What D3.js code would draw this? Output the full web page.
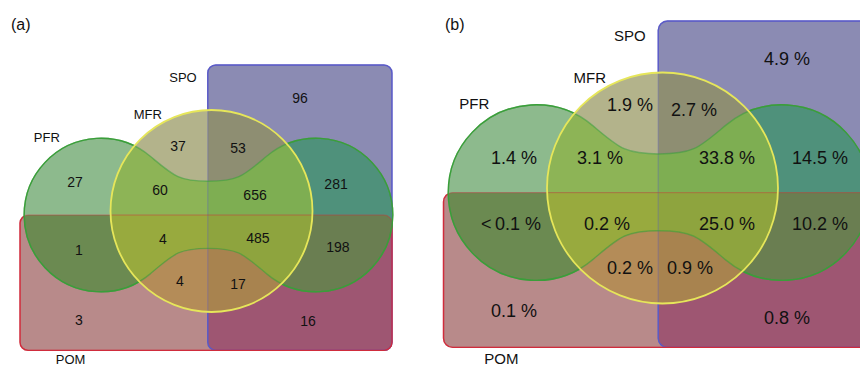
<!DOCTYPE html>
<html>
<head>
<meta charset="utf-8">
<script src="https://cdn.jsdelivr.net/npm/d3@7"></script>
<style>
  body { margin: 0; background: #fff; }
  svg { display: block; font-family: "Liberation Sans", Arial, sans-serif; }
</style>
</head>
<body>
<svg id="chart" width="860" height="366"></svg>
<script>
// sets and the 15 regions of the 4-set diagram
const setNames = ["SPO", "MFR", "PFR", "POM"];
const regionSets = [
  ["SPO"], ["MFR"], ["PFR"], ["POM"],
  ["SPO", "MFR"], ["SPO", "PFR"], ["SPO", "POM"], ["MFR", "PFR"], ["MFR", "POM"], ["PFR", "POM"],
  ["SPO", "MFR", "PFR"], ["SPO", "MFR", "POM"], ["SPO", "PFR", "POM"], ["MFR", "PFR", "POM"],
  ["SPO", "MFR", "PFR", "POM"]
];
const regionCounts = [96, 37, 27, 3, 53, 281, 16, 60, 4, 1, 656, 17, 198, 4, 485];
const regionPercents = ["4.9 %", "1.9 %", "1.4 %", "0.1 %", "2.7 %", "14.5 %", "0.8 %", "3.1 %",
  "0.2 %", "<\u20090.1 %", "33.8 %", "0.9 %", "10.2 %", "0.2 %", "25.0 %"];

// colours of each region (same order)
const regionColors = ["#8b8bb3", "#b3b38b", "#8dba8d", "#b88a8a",
  "#8e8e72", "#4f917b", "#9e5672", "#8db456", "#b48c58", "#6b8a51",
  "#7eae52", "#a8834f", "#6a7e51", "#98aa3e", "#8ea43e"];
const strokeColors = { SPO: "#5a5ac8", POM: "#d02c3c", PFR: "#3a9e3a", MFR: "#e6e65a" };

// shape layout, in units of the MFR circle radius (centre of circle = 0,0)
const geo = {
  spo: { x0: -0.037, x1: 1.787, y0: -1.446, y1: 1.38 },
  pom: { x0: -1.896, x1: 1.787, y0: 0.04, y1: 1.38 },
  lobeL: -1.095, lobeR: 1.035, lobeY: 0.04, lobeRad: 0.76,
  bandX: -0.03, bandTop: -0.295, bandBot: 0.37, corner: 0.08
};

// set label positions (unit coords)
const setLabelPos = { SPO: [-0.282, -1.32], MFR: [-0.63, -0.955], PFR: [-1.63, -0.728], POM: [-1.395, 1.475] };

const panels = [
  { id: "a", tag: "(a)", tagX: 11, tagY: 24, cx: 211.5, cy: 211, r: 101, numFont: 14, setFont: 13,
    texts: regionCounts.map(String),
    pos: [[0.876, -1.119], [-0.332, -0.644], [-1.351, -0.287], [-1.312, 1.079], [0.262, -0.624],
          [1.233, -0.267], [0.955, 1.089], [-0.51, -0.208], [-0.312, 0.693], [-1.312, 0.386],
          [0.431, -0.158], [0.262, 0.723], [1.252, 0.356], [-0.48, 0.277], [0.46, 0.267]] },
  { id: "b", tag: "(b)", tagX: 445, tagY: 24, cx: 662.5, cy: 188, r: 115.5, numFont: 18, setFont: 15,
    texts: regionPercents,
    pos: [[1.078, -1.117], [-0.281, -0.719], [-1.286, -0.26], [-1.286, 1.065], [0.273, -0.675],
          [1.364, -0.26], [1.078, 1.126], [-0.541, -0.26], [-0.281, 0.693], [-1.312, 0.312],
          [0.558, -0.26], [0.238, 0.693], [1.364, 0.312], [-0.481, 0.312], [0.558, 0.312]] }
];

const svg = d3.select("#chart");
const defs = svg.append("defs");

function pfrPath(x, y, k) {
  const a = 50 * Math.PI / 180, t = 0.3 * k, h = 0.3 * k;
  const L = [x(geo.lobeL), y(geo.lobeY)], R = [x(geo.lobeR), y(geo.lobeY)], rr = geo.lobeRad * k;
  const mx = x(geo.bandX), top = y(geo.bandTop), bot = y(geo.bandBot);
  const ca = Math.cos(a), sa = Math.sin(a);
  const p = d3.path();
  const S = [L[0] + rr * ca, L[1] - rr * sa];
  p.moveTo(S[0], S[1]);
  p.arc(L[0], L[1], rr, -a, a, true);
  const A = [L[0] + rr * ca, L[1] + rr * sa];
  p.bezierCurveTo(A[0] + t * sa, A[1] - t * ca, mx - h, bot, mx, bot);
  const B = [R[0] - rr * ca, R[1] + rr * sa];
  p.bezierCurveTo(mx + h, bot, B[0] - t * sa, B[1] - t * ca, B[0], B[1]);
  p.arc(R[0], R[1], rr, Math.PI - a, -(Math.PI - a), true);
  const C = [R[0] - rr * ca, R[1] - rr * sa];
  p.bezierCurveTo(C[0] - t * sa, C[1] + t * ca, mx + h, top, mx, top);
  p.bezierCurveTo(mx - h, top, S[0] + t * sa, S[1] + t * ca, S[0], S[1]);
  p.closePath();
  return p.toString();
}

panels.forEach(P => {
  const x = d3.scaleLinear().domain([0, 1]).range([P.cx, P.cx + P.r]);
  const y = d3.scaleLinear().domain([0, 1]).range([P.cy, P.cy + P.r]);
  const k = P.r;

  // the four shapes
  const shapes = {
    SPO: g => g.append("rect").attr("x", x(geo.spo.x0)).attr("y", y(geo.spo.y0))
      .attr("width", x(geo.spo.x1) - x(geo.spo.x0)).attr("height", y(geo.spo.y1) - y(geo.spo.y0))
      .attr("rx", geo.corner * k),
    POM: g => g.append("rect").attr("x", x(geo.pom.x0)).attr("y", y(geo.pom.y0))
      .attr("width", x(geo.pom.x1) - x(geo.pom.x0)).attr("height", y(geo.pom.y1) - y(geo.pom.y0))
      .attr("rx", geo.corner * k),
    PFR: g => g.append("path").attr("d", pfrPath(x, y, k)),
    MFR: g => g.append("circle").attr("cx", x(0)).attr("cy", y(0)).attr("r", k)
  };

  setNames.forEach(s => shapes[s](defs.append("clipPath").attr("id", `clip-${P.id}-${s}`)));

  const maskRect = defs.append("mask").attr("id", `mask-rect-${P.id}`);
  maskRect.append("rect").attr("width", 860).attr("height", 366).attr("fill", "#fff");
  shapes.PFR(maskRect).attr("fill", "#000");
  shapes.MFR(maskRect).attr("fill", "#000");
  const maskCirc = defs.append("mask").attr("id", `mask-circ-${P.id}`);
  maskCirc.append("rect").attr("width", 860).attr("height", 366).attr("fill", "#fff");
  shapes.MFR(maskCirc).attr("fill", "#000");

  const panel = svg.append("g");

  // region fills, painted from single sets up to the 4-way intersection
  regionSets.forEach((sets, i) => {
    let g = panel;
    sets.forEach(s => { g = g.append("g").attr("clip-path", `url(#clip-${P.id}-${s})`); });
    g.append("rect").attr("width", 860).attr("height", 366).attr("fill", regionColors[i]);
  });

  // outlines
  const faint = panel.append("g").attr("fill", "none").attr("stroke-width", 1.4).attr("stroke-opacity", 0.3);
  ["SPO", "POM"].forEach(s => shapes[s](faint).attr("stroke", strokeColors[s]));
  const full = panel.append("g").attr("fill", "none").attr("stroke-width", 1.4).attr("mask", `url(#mask-rect-${P.id})`);
  ["SPO", "POM"].forEach(s => shapes[s](full).attr("stroke", strokeColors[s]));

  shapes.PFR(panel.append("g").attr("opacity", 0.55)).attr("fill", "none")
    .attr("stroke", strokeColors.PFR).attr("stroke-width", 1.4);
  shapes.PFR(panel.append("g").attr("mask", `url(#mask-circ-${P.id})`)).attr("fill", "none")
    .attr("stroke", strokeColors.PFR).attr("stroke-width", 1.4);
  shapes.MFR(panel).attr("fill", "none").attr("stroke", strokeColors.MFR).attr("stroke-width", 1.8);

  // region values
  panel.append("g").selectAll("text").data(P.texts).join("text")
    .attr("x", (d, i) => x(P.pos[i][0]))
    .attr("y", (d, i) => y(P.pos[i][1]))
    .attr("text-anchor", "middle").attr("dominant-baseline", "central")
    .attr("font-size", P.numFont).attr("fill", "#111")
    .text(d => d);

  // set names
  panel.append("g").selectAll("text").data(setNames).join("text")
    .attr("x", d => x(setLabelPos[d][0]))
    .attr("y", d => y(setLabelPos[d][1]))
    .attr("text-anchor", "middle").attr("dominant-baseline", "central")
    .attr("font-size", P.setFont).attr("fill", "#111")
    .text(d => d);

  svg.append("text").attr("x", P.tagX).attr("y", P.tagY)
    .attr("dominant-baseline", "central").attr("font-size", 16).attr("fill", "#111")
    .text(P.tag);
});
</script>
</body>
</html>
